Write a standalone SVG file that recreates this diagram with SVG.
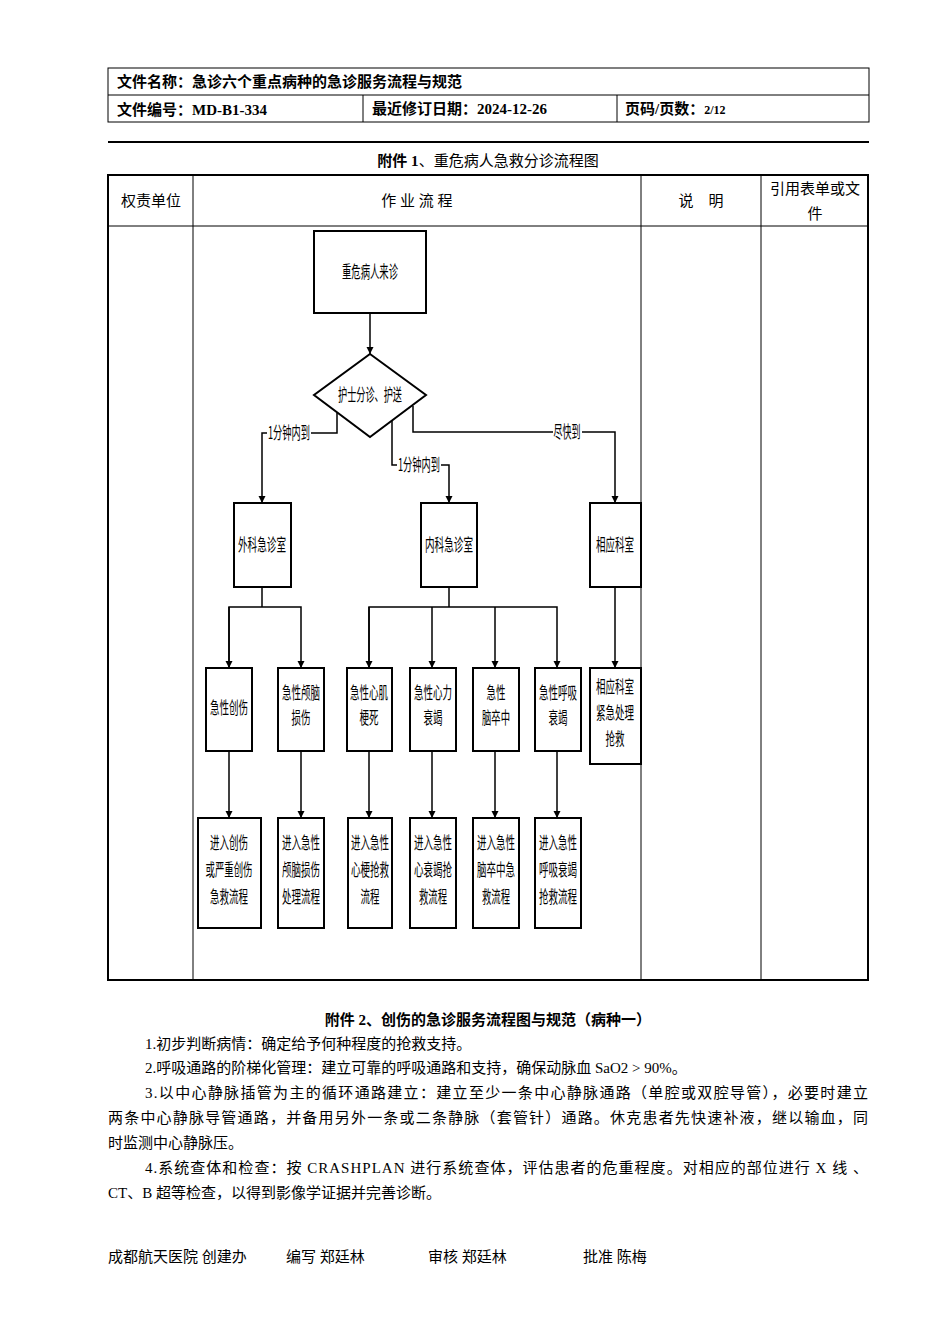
<svg xmlns="http://www.w3.org/2000/svg" width="950" height="1344" viewBox="0 0 950 1344">
<defs>
<style>
.t{font-family:"Liberation Serif","Noto Sans CJK SC",serif;fill:#000}
.b{font-weight:bold}
.n{font-family:"Noto Sans CJK SC",sans-serif;font-size:17px;fill:#000;text-anchor:middle}
.box{fill:#fff;stroke:#000;stroke-width:2}
.ln{fill:none;stroke:#000;stroke-width:1.5}
.tb{fill:none;stroke:#000;stroke-width:1}
</style>
<marker id="a" viewBox="0 0 10 10" refX="10" refY="5" markerWidth="7" markerHeight="9" orient="auto" markerUnits="userSpaceOnUse"><path d="M0,0L10,5L0,10z" fill="#000"/></marker>
</defs>
<rect width="950" height="1344" fill="#fff"/>
<g id="header">
<rect class="tb" x="108" y="68" width="761" height="54"/>
<line class="tb" x1="108" y1="95" x2="869" y2="95"/>
<line class="tb" x1="363" y1="95" x2="363" y2="122"/>
<line class="tb" x1="617" y1="95" x2="617" y2="122"/>
<text class="t b" x="117" y="87" font-size="15">文件名称：急诊六个重点病种的急诊服务流程与规范</text>
<text class="t b" x="117" y="115" font-size="15">文件编号：MD-B1-334</text>
<text class="t b" x="372" y="114" font-size="15">最近修订日期：2024-12-26</text>
<text class="t b" x="625" y="114" font-size="15">页码/页数：<tspan font-size="12">2/12</tspan></text>
<line x1="108" y1="142" x2="869" y2="142" stroke="#000" stroke-width="2"/>
<text class="t" x="488" y="166" font-size="15" text-anchor="middle"><tspan class="b">附件 1</tspan>、重危病人急救分诊流程图</text>
</g>
<g id="table">
<rect x="108" y="175" width="760" height="805" fill="none" stroke="#000" stroke-width="2"/>
<line class="tb" x1="108" y1="226" x2="868" y2="226"/>
<line class="tb" x1="193" y1="175" x2="193" y2="980"/>
<line class="tb" x1="641" y1="175" x2="641" y2="980"/>
<line class="tb" x1="761" y1="175" x2="761" y2="980"/>
<text class="t" x="151" y="206" font-size="15" text-anchor="middle">权责单位</text>
<text class="t" x="417" y="206" font-size="15" text-anchor="middle">作 业 流 程</text>
<text class="t" x="701" y="206" font-size="15" text-anchor="middle">说　明</text>
<text class="t" x="815" y="194" font-size="15" text-anchor="middle">引用表单或文</text>
<text class="t" x="815" y="219" font-size="15" text-anchor="middle">件</text>
</g>
<g id="connectors">
<line class="ln" x1="370" y1="313" x2="370" y2="354" marker-end="url(#a)"/>
<polyline class="ln" points="337,413 337,433 262,433 262,503" marker-end="url(#a)"/>
<polyline class="ln" points="392,420 392,465 449,465 449,503" marker-end="url(#a)"/>
<polyline class="ln" points="413,406 413,432 615,432 615,503" marker-end="url(#a)"/>
<rect x="267" y="424" width="44" height="18" fill="#fff"/>
<text class="n" x="289" y="439" textLength="42" lengthAdjust="spacingAndGlyphs">1分钟内到</text>
<rect x="397" y="456" width="44" height="18" fill="#fff"/>
<text class="n" x="419" y="471" textLength="42" lengthAdjust="spacingAndGlyphs">1分钟内到</text>
<rect x="553" y="423" width="29" height="18" fill="#fff"/>
<text class="n" x="567" y="438" textLength="27" lengthAdjust="spacingAndGlyphs">尽快到</text>
<polyline class="ln" points="262,587 262,607"/>
<polyline class="ln" points="229,668 229,607 301,607 301,668" marker-end="url(#a)"/>
<line class="ln" x1="229" y1="607" x2="229" y2="668" marker-end="url(#a)"/>
<polyline class="ln" points="449,587 449,607"/>
<polyline class="ln" points="369,668 369,607 557,607 557,668" marker-end="url(#a)"/>
<line class="ln" x1="369" y1="607" x2="369" y2="668" marker-end="url(#a)"/>
<line class="ln" x1="432" y1="607" x2="432" y2="668" marker-end="url(#a)"/>
<line class="ln" x1="495" y1="607" x2="495" y2="668" marker-end="url(#a)"/>
<line class="ln" x1="615" y1="587" x2="615" y2="668" marker-end="url(#a)"/>
<line class="ln" x1="229" y1="751" x2="229" y2="818" marker-end="url(#a)"/>
<line class="ln" x1="301" y1="751" x2="301" y2="818" marker-end="url(#a)"/>
<line class="ln" x1="369" y1="751" x2="369" y2="818" marker-end="url(#a)"/>
<line class="ln" x1="432" y1="751" x2="432" y2="818" marker-end="url(#a)"/>
<line class="ln" x1="495" y1="751" x2="495" y2="818" marker-end="url(#a)"/>
<line class="ln" x1="557" y1="751" x2="557" y2="818" marker-end="url(#a)"/>
</g>
<g id="n-start"><rect class="box" x="314" y="231" width="112" height="82"/><text class="n" x="370" y="278" textLength="56" lengthAdjust="spacingAndGlyphs">重危病人来诊</text></g>
<g id="n-triage"><polygon class="box" points="370,354 426,395 370,437 314,395"/><text class="n" x="370" y="401" textLength="64" lengthAdjust="spacingAndGlyphs">护士分诊、护送</text></g>
<g id="n-surg"><rect class="box" x="234" y="503" width="57" height="84"/><text class="n" x="262" y="551" textLength="48" lengthAdjust="spacingAndGlyphs">外科急诊室</text></g>
<g id="n-med"><rect class="box" x="421" y="503" width="56" height="84"/><text class="n" x="449" y="551" textLength="48" lengthAdjust="spacingAndGlyphs">内科急诊室</text></g>
<g id="n-dept"><rect class="box" x="590" y="503" width="51" height="84"/><text class="n" x="615" y="551" textLength="38" lengthAdjust="spacingAndGlyphs">相应科室</text></g>
<g id="n-r1"><rect class="box" x="206" y="668" width="46" height="83"/><text class="n" x="229" y="714" textLength="38" lengthAdjust="spacingAndGlyphs">急性创伤</text></g>
<g id="n-r2"><rect class="box" x="278" y="668" width="46" height="83"/><text class="n" x="301" y="699" textLength="38" lengthAdjust="spacingAndGlyphs">急性颅脑</text><text class="n" x="301" y="724" textLength="19" lengthAdjust="spacingAndGlyphs">损伤</text></g>
<g id="n-r3"><rect class="box" x="347" y="668" width="45" height="83"/><text class="n" x="369" y="699" textLength="38" lengthAdjust="spacingAndGlyphs">急性心肌</text><text class="n" x="369" y="724" textLength="19" lengthAdjust="spacingAndGlyphs">梗死</text></g>
<g id="n-r4"><rect class="box" x="410" y="668" width="46" height="83"/><text class="n" x="433" y="699" textLength="38" lengthAdjust="spacingAndGlyphs">急性心力</text><text class="n" x="433" y="724" textLength="19" lengthAdjust="spacingAndGlyphs">衰竭</text></g>
<g id="n-r5"><rect class="box" x="473" y="668" width="46" height="83"/><text class="n" x="496" y="699" textLength="19" lengthAdjust="spacingAndGlyphs">急性</text><text class="n" x="496" y="724" textLength="28" lengthAdjust="spacingAndGlyphs">脑卒中</text></g>
<g id="n-r6"><rect class="box" x="535" y="668" width="46" height="83"/><text class="n" x="558" y="699" textLength="38" lengthAdjust="spacingAndGlyphs">急性呼吸</text><text class="n" x="558" y="724" textLength="19" lengthAdjust="spacingAndGlyphs">衰竭</text></g>
<g id="n-r7"><rect class="box" x="590" y="668" width="51" height="96"/><text class="n" x="615" y="693" textLength="38" lengthAdjust="spacingAndGlyphs">相应科室</text><text class="n" x="615" y="719" textLength="38" lengthAdjust="spacingAndGlyphs">紧急处理</text><text class="n" x="615" y="745" textLength="19" lengthAdjust="spacingAndGlyphs">抢救</text></g>
<g id="n-s1"><rect class="box" x="198" y="818" width="63" height="110"/><text class="n" x="229" y="849" textLength="38" lengthAdjust="spacingAndGlyphs">进入创伤</text><text class="n" x="229" y="876" textLength="47" lengthAdjust="spacingAndGlyphs">或严重创伤</text><text class="n" x="229" y="903" textLength="38" lengthAdjust="spacingAndGlyphs">急救流程</text></g>
<g id="n-s2"><rect class="box" x="278" y="818" width="46" height="110"/><text class="n" x="301" y="849" textLength="38" lengthAdjust="spacingAndGlyphs">进入急性</text><text class="n" x="301" y="876" textLength="38" lengthAdjust="spacingAndGlyphs">颅脑损伤</text><text class="n" x="301" y="903" textLength="38" lengthAdjust="spacingAndGlyphs">处理流程</text></g>
<g id="n-s3"><rect class="box" x="348" y="818" width="44" height="110"/><text class="n" x="370" y="849" textLength="38" lengthAdjust="spacingAndGlyphs">进入急性</text><text class="n" x="370" y="876" textLength="38" lengthAdjust="spacingAndGlyphs">心梗抢救</text><text class="n" x="370" y="903" textLength="19" lengthAdjust="spacingAndGlyphs">流程</text></g>
<g id="n-s4"><rect class="box" x="410" y="818" width="46" height="110"/><text class="n" x="433" y="849" textLength="38" lengthAdjust="spacingAndGlyphs">进入急性</text><text class="n" x="433" y="876" textLength="38" lengthAdjust="spacingAndGlyphs">心衰竭抢</text><text class="n" x="433" y="903" textLength="28" lengthAdjust="spacingAndGlyphs">救流程</text></g>
<g id="n-s5"><rect class="box" x="473" y="818" width="46" height="110"/><text class="n" x="496" y="849" textLength="38" lengthAdjust="spacingAndGlyphs">进入急性</text><text class="n" x="496" y="876" textLength="38" lengthAdjust="spacingAndGlyphs">脑卒中急</text><text class="n" x="496" y="903" textLength="28" lengthAdjust="spacingAndGlyphs">救流程</text></g>
<g id="n-s6"><rect class="box" x="535" y="818" width="46" height="110"/><text class="n" x="558" y="849" textLength="38" lengthAdjust="spacingAndGlyphs">进入急性</text><text class="n" x="558" y="876" textLength="38" lengthAdjust="spacingAndGlyphs">呼吸衰竭</text><text class="n" x="558" y="903" textLength="38" lengthAdjust="spacingAndGlyphs">抢救流程</text></g>
<g id="body" class="t" font-size="15">
<text class="b" x="488" y="1025" text-anchor="middle">附件 2、创伤的急诊服务流程图与规范（病种一）</text>
<text x="145" y="1049">1.初步判断病情：确定给予何种程度的抢救支持。</text>
<text x="145" y="1073">2.呼吸通路的阶梯化管理：建立可靠的呼吸通路和支持，确保动脉血 SaO2 &gt; 90%。</text>
<text x="145" y="1098" textLength="723" lengthAdjust="spacing">3.以中心静脉插管为主的循环通路建立：建立至少一条中心静脉通路（单腔或双腔导管），必要时建立</text>
<text x="108" y="1123" textLength="760" lengthAdjust="spacing">两条中心静脉导管通路，并备用另外一条或二条静脉（套管针）通路。休克患者先快速补液，继以输血，同</text>
<text x="108" y="1148">时监测中心静脉压。</text>
<text x="145" y="1173" textLength="723" lengthAdjust="spacing">4.系统查体和检查：按 CRASHPLAN 进行系统查体，评估患者的危重程度。对相应的部位进行 X 线 、</text>
<text x="108" y="1198">CT、B 超等检查，以得到影像学证据并完善诊断。</text>
<text x="108" y="1262">成都航天医院 创建办</text>
<text x="286" y="1262">编写  郑廷林</text>
<text x="428" y="1262">审核 郑廷林</text>
<text x="583" y="1262">批准  陈梅</text>
</g>
</svg>
